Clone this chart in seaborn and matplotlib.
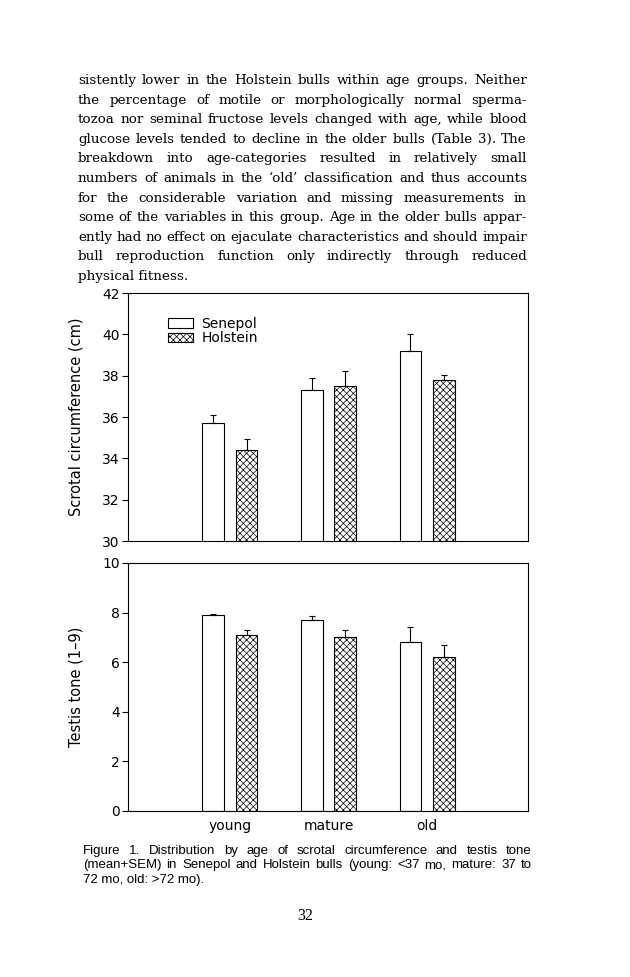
import numpy as np
import pandas as pd
import matplotlib
matplotlib.use('Agg')
import matplotlib.pyplot as plt
import seaborn as sns

W, H = 630, 977

# data (mean and SEM)
age_groups = ['young', 'mature', 'old']
breeds = ['Senepol', 'Holstein']
scrotal_senepol = [35.7, 37.3, 39.2]
scrotal_holstein = [34.4, 37.5, 37.8]
scrotal_sem_senepol = [0.4, 0.6, 0.8]
scrotal_sem_holstein = [0.55, 0.75, 0.22]
tone_senepol = [7.9, 7.7, 6.8]
tone_holstein = [7.1, 7.0, 6.2]
tone_sem_senepol = [0.05, 0.17, 0.6]
tone_sem_holstein = [0.2, 0.3, 0.5]
scrotal_ticks = [30, 32, 34, 36, 38, 40, 42]
tone_ticks = [0, 2, 4, 6, 8, 10]

body_lines = [
    "sistently lower in the Holstein bulls within age groups. Neither",
    "the percentage of motile or morphologically normal sperma-",
    "tozoa nor seminal fructose levels changed with age, while blood",
    "glucose levels tended to decline in the older bulls (Table 3). The",
    "breakdown into age-categories resulted in relatively small",
    "numbers of animals in the \u2018old\u2019 classification and thus accounts",
    "for the considerable variation and missing measurements in",
    "some of the variables in this group. Age in the older bulls appar-",
    "ently had no effect on ejaculate characteristics and should impair",
    "bull reproduction function only indirectly through reduced",
    "physical fitness.",
]
caption_lines = [
    "Figure 1. Distribution by age of scrotal circumference and testis tone",
    "(mean+SEM) in Senepol and Holstein bulls (young: <37 mo, mature: 37 to",
    "72 mo, old: >72 mo).",
]
page_number = "32"

sns.set_theme(style='ticks')
plt.rcParams['font.family'] = ['DejaVu Sans']
plt.rcParams['hatch.linewidth'] = 0.5
for key in ['text.color', 'axes.labelcolor', 'xtick.color', 'ytick.color']:
    plt.rcParams[key] = 'black'


def make_frame(senepol, holstein):
    return pd.DataFrame({
        'age': age_groups * 2,
        'breed': ['Senepol'] * 3 + ['Holstein'] * 3,
        'value': senepol + holstein,
    })


def draw_panel(ax, df, sems):
    sns.barplot(data=df, x='age', y='value', hue='breed', order=age_groups,
                hue_order=breeds, palette=['white', 'white'], saturation=1,
                edgecolor='black', linewidth=0.8, width=0.68, gap=0.35,
                errorbar=None, legend=False, ax=ax)
    for bar in ax.containers[1]:
        bar.set_hatch('xxxxx')
    for cont, err in zip(list(ax.containers), sems):
        xs = [b.get_x() + b.get_width() / 2 for b in cont]
        ys = [b.get_height() for b in cont]
        ax.errorbar(xs, ys, yerr=[np.zeros(len(err)), err], fmt='none',
                    ecolor='black', elinewidth=0.8, capsize=2, capthick=0.8)
    ax.set_xlim(-1.03, 3.02)
    ax.set_xlabel('')
    ax.tick_params(axis='y', direction='out', length=4, width=0.8,
                   labelsize=10, pad=2)
    ax.tick_params(axis='x', length=0, labelsize=10, pad=6)
    for s in ax.spines.values():
        s.set_visible(True)
        s.set_color('black')
        s.set_linewidth(0.8)
    ax.set_facecolor('white')


def word_widths(fig, renderer, words, size, family):
    widths = []
    for w in words:
        t = fig.text(0, 0, w, fontsize=size, family=family)
        widths.append(t.get_window_extent(renderer).width)
        t.remove()
    return widths


def fit_size(fig, renderer, lines, x0, x1, family, sizes, space=0.3):
    # biggest size where every justified line keeps a normal word gap
    for size in sizes:
        ok = True
        for line in lines[:-1]:
            words = line.split()
            gap = (x1 - x0 - sum(word_widths(fig, renderer, words, size, family))) / (len(words) - 1)
            if gap < space * size * 100 / 72:
                ok = False
                break
        if ok:
            return size
    return sizes[-1]


def place_text(fig, renderer, lines, x0, x1, y0, step, size, family):
    for i, line in enumerate(lines):
        y = 1 - (y0 + i * step) / H
        if i == len(lines) - 1:
            fig.text(x0 / W, y, line, va='baseline', ha='left',
                     fontsize=size, family=family)
            continue
        words = line.split()
        widths = word_widths(fig, renderer, words, size, family)
        gap = (x1 - x0 - sum(widths)) / (len(words) - 1)
        x = x0
        for w, wd in zip(words, widths):
            fig.text(x / W, y, w, va='baseline', ha='left',
                     fontsize=size, family=family)
            x += wd + gap


fig = plt.figure(figsize=(W / 100, H / 100), dpi=100)
fig.patch.set_facecolor('white')

ax1 = fig.add_axes([128 / W, 1 - 541 / H, 400 / W, 248 / H])
ax2 = fig.add_axes([128 / W, 1 - 811 / H, 400 / W, 248 / H])

draw_panel(ax1, make_frame(scrotal_senepol, scrotal_holstein),
           [scrotal_sem_senepol, scrotal_sem_holstein])
ax1.set_ylim(30, 42)
ax1.set_yticks(scrotal_ticks)
ax1.set_xticklabels([])
ax1.set_ylabel('Scrotal circumference (cm)', fontsize=10.5)
ax1.yaxis.set_label_coords(-0.112, 0.5)
ax1.legend(handles=[ax1.containers[0][0], ax1.containers[1][0]], labels=breeds,
           loc='upper left', bbox_to_anchor=(0.1, 0.905), frameon=False,
           fontsize=10, borderpad=0, borderaxespad=0, handlelength=1.8,
           handleheight=0.7, labelspacing=0.05, handletextpad=0.6)

draw_panel(ax2, make_frame(tone_senepol, tone_holstein),
           [tone_sem_senepol, tone_sem_holstein])
ax2.set_ylim(0, 10)
ax2.set_yticks(tone_ticks)
ax2.set_ylabel('Testis tone (1\u20139)', fontsize=10.5)
ax2.yaxis.set_label_coords(-0.112, 0.5)

renderer = fig.canvas.get_renderer()
body_size = fit_size(fig, renderer, body_lines, 78, 527, 'DejaVu Serif',
                     [11 - 0.1 * k for k in range(20)])
place_text(fig, renderer, body_lines, 78, 527, 84, 19.6, body_size, 'DejaVu Serif')
cap_size = fit_size(fig, renderer, caption_lines, 83, 532, 'Liberation Sans',
                    [9.5 - 0.1 * k for k in range(20)], space=0.25)
place_text(fig, renderer, caption_lines, 83, 532, 854, 14.3, cap_size, 'Liberation Sans')
fig.text(305 / W, 1 - 920 / H, page_number, ha='center', va='baseline',
         fontsize=11.5, family='Liberation Serif')

fig.savefig('out.png', dpi=100)
